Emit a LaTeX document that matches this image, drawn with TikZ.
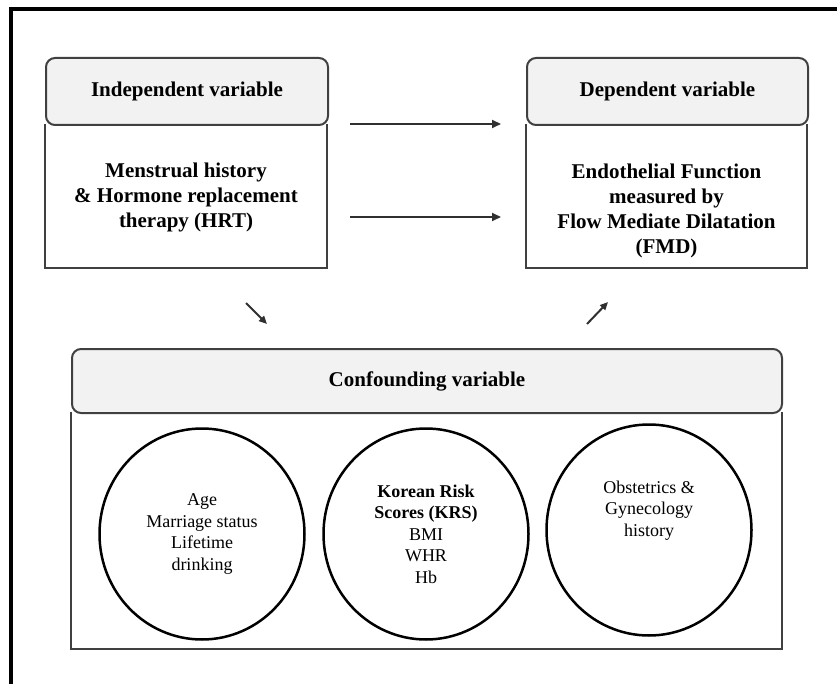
\documentclass[tikz,border=0pt]{standalone}
\usepackage{fontspec}
\setmainfont{Liberation Serif}
\usetikzlibrary{arrows.meta,shapes.geometric}
\definecolor{edge}{HTML}{404040}
\definecolor{hdrfill}{HTML}{F2F2F2}
\definecolor{arrowgray}{HTML}{303030}
\begin{document}
\begin{tikzpicture}[x=1pt,y=-1pt,
  hdr/.style={draw=edge, line width=2pt, fill=hdrfill, rounded corners=9pt,
    minimum height=67pt, anchor=north west, inner sep=0pt,
    font=\fontsize{21}{25}\selectfont\bfseries},
  bodybox/.style={draw=none, anchor=north west, inner sep=0pt},
  bodyline/.style={draw=edge, line width=2pt},
  bodytext/.style={align=center, inner sep=0pt, font=\fontsize{21}{25}\selectfont\bfseries},
  circ/.style={ellipse, draw=black, line width=2.5pt, minimum width=205pt,
    minimum height=211pt, align=center, inner sep=0pt,
    font=\fontsize{18}{21.5}\selectfont},
  arr/.style={draw=arrowgray, line width=2pt, -{Triangle[length=9pt,width=8pt]}},
  darr/.style={draw=arrowgray, line width=2pt, -{Triangle[length=8pt,width=7pt]}}
]
\useasboundingbox (0,0) rectangle (837,684);
% outer frame (only top and left visible)
\coordinate (f1) at (11,684);
\coordinate (f2) at (11,9);
\coordinate (f3) at (837,9);
\draw[line width=3.8pt, line join=miter] (f1) -- (f2) -- (f3);

% Independent variable
\node[bodybox, minimum width=282pt, minimum height=144pt] (ib) at (45,124) {};
\draw[bodyline] (ib.north west) -- (ib.south west) -- (ib.south east) -- (ib.north east);
\node[hdr, minimum width=282pt] (ih) at (45,57) {Independent variable};
\node[bodytext] (it) at (186,197) {Menstrual history\\\& Hormone replacement\\therapy (HRT)};

% Dependent variable
\node[bodybox, minimum width=281pt, minimum height=144pt] (db) at (526,124) {};
\draw[bodyline] (db.north west) -- (db.south west) -- (db.south east) -- (db.north east);
\node[hdr, minimum width=281pt] (dh) at (526,57) {Dependent variable};
\node[bodytext] (dt) at (666.5,210.5) {Endothelial Function\\measured by\\Flow Mediate Dilatation\\(FMD)};

% horizontal arrows
\coordinate (a1s) at (350,124);
\coordinate (a1e) at (501,124);
\coordinate (a2s) at (350,217);
\coordinate (a2e) at (501,217);
\draw[arr] (a1s) -- (a1e);
\draw[arr] (a2s) -- (a2e);

% diagonal arrows
\coordinate (d1s) at (246,303);
\coordinate (d1e) at (267,324);
\coordinate (d2s) at (587,324);
\coordinate (d2e) at (608,302);
\draw[darr] (d1s) -- (d1e);
\draw[darr] (d2s) -- (d2e);

% Confounding variable
\node[bodybox, minimum width=711pt, minimum height=237pt] (cb) at (71,412) {};
\draw[bodyline] (cb.north west) -- (cb.south west) -- (cb.south east) -- (cb.north east);
\node[hdr, minimum width=710pt, minimum height=64pt] (ch) at (71,348) {Confounding variable};

% circles
\node[circ] (c1) at (202,534) {Age\\Marriage status\\Lifetime\\drinking};
\node[circ] (c2) at (426,534) {\textbf{Korean Risk}\\\textbf{Scores (KRS)}\\BMI\\WHR\\Hb};
\node[circ] (c3) at (649,530) {Obstetrics \&\\Gynecology\\history\\[21.5pt]\mbox{}};
\end{tikzpicture}
\end{document}
